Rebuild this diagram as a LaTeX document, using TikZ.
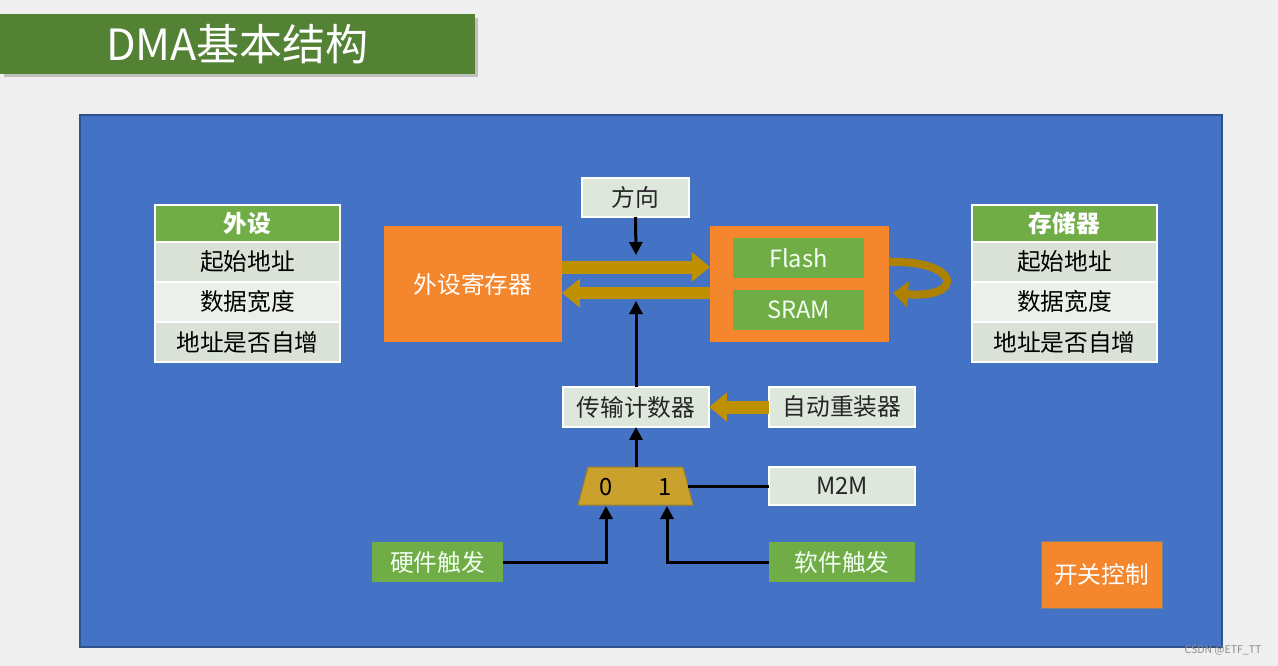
\documentclass[tikz,border=0pt]{standalone}
\usepackage{fontspec}
\setmainfont{Noto Sans CJK SC}
\usepackage{xcolor}
\usetikzlibrary{shapes.geometric, arrows.meta, positioning, shadows}

\definecolor{pagegray}{RGB}{239,239,239}
\definecolor{titlegreen}{RGB}{84,130,53}
\definecolor{panelblue}{RGB}{68,114,196}
\definecolor{paneledge}{RGB}{47,82,143}
\definecolor{cellgreen}{RGB}{112,173,71}
\definecolor{rowdark}{RGB}{218,225,214}
\definecolor{rowlight}{RGB}{236,240,234}
\definecolor{boxlight}{RGB}{222,231,220}
\definecolor{boxorange}{RGB}{244,134,46}
\definecolor{bandgold}{RGB}{191,144,0}
\definecolor{muxgold}{RGB}{201,161,44}

\begin{document}
\begin{tikzpicture}[x={(0.02cm,0)}, y={(0,-0.02cm)},
    % Styles
    cell/.style={
        rectangle,
        inner sep=0pt,
        outer sep=0pt,
        draw=white,
        line width=0.04cm,
        align=center,
        font=\fontsize{13.5}{16}\selectfont
    },
    headcell/.style={cell, fill=cellgreen, text=white, font=\fontsize{13.5}{16}\selectfont\bfseries,
        minimum width=3.7cm, minimum height=0.74cm},
    darkrow/.style={cell, fill=rowdark, minimum width=3.7cm, minimum height=0.8cm},
    lightrow/.style={cell, fill=rowlight, minimum width=3.7cm, minimum height=0.8cm},
    lightbox/.style={cell, fill=boxlight, text=black!85},
    orangebox/.style={cell, fill=boxorange, draw=none, text=white},
    greenbox/.style={cell, fill=cellgreen, draw=none, text=white!95!green},
    band/.style={draw=bandgold, line width=0.26cm, -{Triangle[length=0.36cm, width=0.56cm]}},
    sig/.style={draw=black, line width=0.06cm, -{Triangle[length=0.26cm, width=0.26cm]}},
    wire/.style={draw=black, line width=0.06cm}
]

% page and panel
\useasboundingbox[fill=pagegray] (0,0) rectangle (1278,666);
\fill[panelblue, draw=paneledge, line width=0.03cm] (80,115) rectangle (1222,647);

% title bar
\node[rectangle, fill=titlegreen, minimum width=9.5cm, minimum height=1.2cm, inner sep=0pt,
      text=white, font=\fontsize{24.5}{28}\selectfont,
      drop shadow={shadow xshift=0.07cm, shadow yshift=-0.07cm, opacity=0.35, fill=black!60}]
      (title) at (237.5,44) {DMA基本结构};

% peripheral table
\node[headcell] (perHead) at (247.5,223.5) {外设};
\node[darkrow, below=0pt of perHead] (perStart) {起始地址};
\node[lightrow, below=0pt of perStart] (perWidth) {数据宽度};
\node[darkrow, below=0pt of perWidth] (perInc) {地址是否自增};

% memory table
\node[headcell] (memHead) at (1064.5,223.5) {存储器};
\node[darkrow, below=0pt of memHead] (memStart) {起始地址};
\node[lightrow, below=0pt of memStart] (memWidth) {数据宽度};
\node[darkrow, below=0pt of memWidth] (memInc) {地址是否自增};

% registers and memories
\node[lightbox, minimum width=2.14cm, minimum height=0.78cm] (dir) at (635.5,197.5) {方向};
\node[orangebox, minimum width=3.56cm, minimum height=2.32cm] (reg) at (473,284) {外设寄存器};
\node[orangebox, minimum width=3.58cm, minimum height=2.32cm] (mem) at (799.5,284) {};
\node[greenbox, minimum width=2.62cm, minimum height=0.8cm] (flash) at (798.5,258) {Flash};
\node[greenbox, minimum width=2.62cm, minimum height=0.8cm] (sram) at (798.5,310) {SRAM};

% data transfer bands
\draw[band] ([yshift=0.34cm]reg.east) -- ([yshift=0.34cm]mem.west);
\draw[band] ([yshift=-0.18cm]mem.west) -- ([yshift=-0.18cm]reg.east);
\draw[draw=bandgold!90!black, line width=0.16cm, -{Triangle[length=0.3cm, width=0.5cm]}]
    ([yshift=0.44cm]mem.east) .. controls +(72,-2) and +(72,6) .. ([xshift=0.08cm, yshift=-0.18cm]mem.east);

% counter and reload
\node[lightbox, minimum width=2.92cm, minimum height=0.8cm] (cnt) at (636,407) {传输计数器};
\node[lightbox, minimum width=2.92cm, minimum height=0.8cm] (rel) at (842,407) {自动重装器};
\draw[band] (rel.west) -- (cnt.east);

\coordinate (dirend) at (636,255);
\coordinate (cntend) at (636,301);
\draw[sig] (dir.south) -- (dirend);
\draw[sig] (cnt.north) -- (cntend);

% trigger select
\coordinate (muxtop) at (636,467);
\coordinate (muxright) at (688,486);
\fill[muxgold, draw=muxgold!80!black, line width=0.02cm]
    (588,467) -- (683,467) -- (693,505) -- (578,505) -- cycle;
\node[font=\fontsize{13.5}{16}\selectfont, inner sep=0pt] (mux0) at (606,487) {0};
\node[font=\fontsize{13.5}{16}\selectfont, inner sep=0pt] (mux1) at (665,487) {1};
\coordinate (muxin0) at (606,506);
\coordinate (muxin1) at (667,506);
\node[lightbox, minimum width=2.92cm, minimum height=0.76cm] (m2m) at (842,486) {M2M};
\draw[sig] (muxtop) -- (cnt.south);
\draw[wire] (m2m.west) -- (muxright);

\node[greenbox, minimum width=2.62cm, minimum height=0.8cm] (hw) at (437.5,562) {硬件触发};
\node[greenbox, minimum width=2.92cm, minimum height=0.8cm] (sw) at (842,562) {软件触发};
\draw[sig] (hw.east) -| (muxin0);
\draw[sig] (sw.west) -| (muxin1);

% enable
\node[orangebox, draw=black!50, line width=0.02cm, minimum width=2.42cm, minimum height=1.34cm]
      (en) at (1101.5,574.5) {开关控制};

\node[font=\fontsize{6}{7}\selectfont, text=black!45, inner sep=0pt] (mark) at (1223,650) {CSDN @ETF\_TT};

\end{tikzpicture}
\end{document}
